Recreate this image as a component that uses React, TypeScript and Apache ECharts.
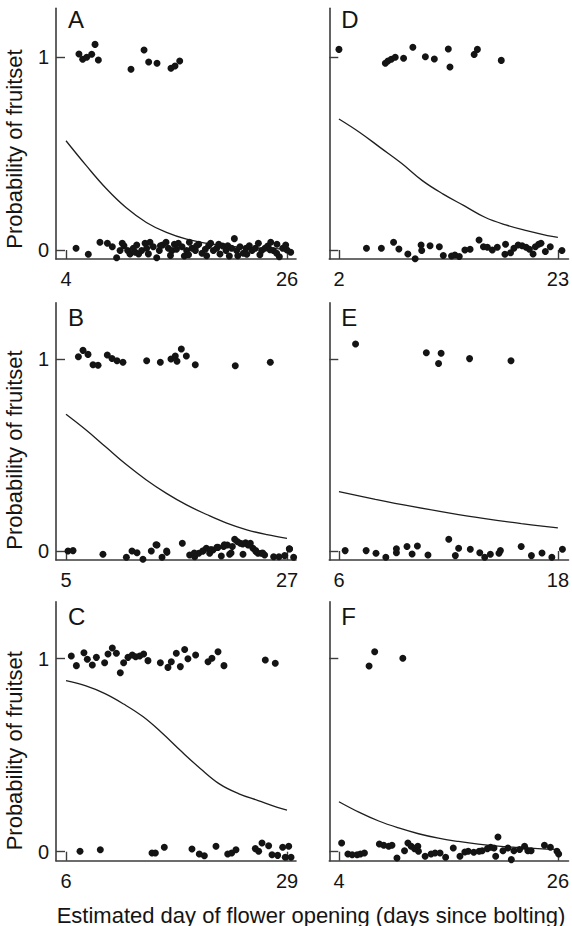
import React, { useEffect, useRef } from "react";
import * as echarts from "echarts";

const FONT = '"Liberation Sans", Arial, Helvetica, sans-serif';

const panelLetters = ["A", "B", "C", "D", "E", "F"];
const xTickValues = [[4, 26], [5, 27], [6, 29], [2, 23], [6, 18], [4, 26]];
const yTickValues = [0, 1];
const yTitle = "Probability of fruitset";
const xTitle = "Estimated day of flower opening (days since bolting)";

// Panel A
const fruitA = [[5.29,1.017],[5.66,0.990],[6.06,1.000],[6.56,1.016],[6.89,1.067],[7.22,0.986],[10.47,0.938],[11.77,1.038],[12.23,0.976],[13.06,0.969],[14.45,0.943],[14.85,0.955],[15.32,0.981]];
const noFruitA = [[5.00,0.009],[6.22,-0.022],[7.38,0.040],[8.12,0.035],[8.61,0.017],[9.04,-0.040],[9.38,-0.003],[9.77,0.022],[10.14,-0.003],[10.37,-0.021],[10.70,0.009],[11.04,0.026],[11.23,-0.021],[11.53,-0.003],[11.87,0.035],[12.03,0.009],[12.36,0.040],[12.69,0.017],[13.03,-0.040],[13.29,-0.003],[13.62,0.026],[13.96,0.040],[14.19,0.009],[14.55,-0.003],[14.79,0.030],[15.18,0.035],[15.55,0.017],[15.78,-0.031],[16.01,-0.003],[16.28,0.040],[16.54,0.009],[16.88,-0.003],[17.21,0.030],[17.54,-0.017],[17.87,0.004],[18.20,0.022],[18.40,0.035],[18.67,-0.003],[19.00,0.009],[19.33,-0.021],[19.60,0.021],[19.93,-0.003],[20.26,-0.031],[20.49,0.009],[20.76,0.059],[20.99,-0.003],[21.32,0.017],[21.65,-0.017],[21.92,0.009],[22.25,0.022],[22.52,-0.003],[22.85,0.009],[23.15,0.035],[23.48,-0.003],[23.81,0.009],[24.08,0.021],[24.38,0.040],[24.64,-0.003],[24.97,-0.017],[25.24,-0.035],[25.57,0.009],[25.87,0.026],[26.37,-0.012],[9.6,0.035],[10.9,-0.012],[12.2,-0.02],[13.4,0.022],[14.4,-0.028],[15.0,0.004],[16.2,-0.025],[17.0,0.022],[18.0,-0.03],[19.2,0.03],[20.1,0.022],[21.1,-0.03],[22.0,-0.022],[23.3,-0.025],[24.3,0.002],[25.0,0.03],[26.0,0.0]];
const curveA = [[4,0.567],[6,0.439],[8,0.319],[10,0.219],[12,0.143],[14,0.091],[16,0.056],[18,0.035],[20,0.021],[22,0.013],[24,0.008],[26,0.005]];

// Panel B
const fruitB = [[6.23,1.012],[6.69,1.045],[7.19,1.024],[7.69,0.970],[8.19,0.967],[9.11,1.021],[9.58,1.003],[10.08,0.991],[10.67,0.983],[13.03,0.991],[14.39,0.983],[15.45,1.000],[15.88,1.016],[16.05,0.988],[16.48,1.052],[16.98,1.016],[17.87,0.970],[21.85,0.965],[25.34,0.983]];
const noFruitB = [[5.20,0.000],[5.70,0.002],[8.68,-0.017],[11.01,-0.033],[11.57,0.000],[12.07,-0.009],[12.66,-0.043],[13.49,0.000],[14.06,0.031],[14.56,-0.033],[15.05,-0.007],[16.58,0.040],[17.31,-0.021],[17.81,-0.030],[18.21,-0.012],[18.64,0.000],[18.97,0.014],[19.30,-0.012],[19.63,0.005],[20.13,0.019],[20.46,-0.026],[20.69,0.023],[21.06,0.031],[21.29,-0.017],[21.56,0.023],[21.79,0.061],[22.05,0.049],[22.35,0.040],[22.62,-0.017],[22.88,0.043],[23.12,0.031],[23.35,0.040],[23.61,0.014],[23.88,0.002],[24.11,-0.012],[24.44,-0.012],[24.77,-0.021],[25.67,-0.030],[26.20,-0.030],[26.77,-0.024],[27.26,0.010],[27.66,-0.033],[19.43,0.007],[20.03,0.019],[20.76,0.033],[21.43,-0.010],[22.59,0.036],[23.25,0.033],[23.91,-0.002],[24.58,-0.010],[18.61,0.0],[17.77,-0.010],[13.96,0.033],[15.02,0.0],[27.23,0.012]];
const curveB = [[5,0.712],[7,0.63],[9,0.54],[11,0.45],[13,0.37],[15,0.30],[17,0.24],[19,0.19],[21,0.145],[23,0.11],[25,0.085],[27,0.066]];

// Panel C
const fruitC = [[6.55,1.014],[7.08,0.964],[7.87,1.031],[8.22,0.997],[8.74,0.967],[9.16,1.007],[10.02,0.979],[10.37,1.024],[10.82,1.055],[11.24,1.028],[11.65,0.927],[12.00,0.979],[12.45,1.007],[12.90,1.019],[13.25,1.010],[13.67,1.014],[14.08,1.024],[14.53,0.990],[15.82,0.979],[16.61,0.955],[16.96,0.984],[17.48,1.028],[17.90,0.959],[18.35,1.048],[18.69,1.000],[19.49,1.019],[20.78,0.984],[21.19,1.002],[21.82,1.036],[22.44,0.964],[26.74,0.993],[27.78,0.976]];
const noFruitC = [[7.46,0.002],[9.57,0.010],[14.95,-0.007],[15.30,-0.007],[16.23,0.023],[19.11,0.014],[19.87,-0.012],[20.40,-0.021],[21.61,0.028],[22.83,-0.012],[23.24,-0.007],[23.69,0.010],[25.70,0.016],[26.05,0.002],[26.40,0.045],[27.09,0.031],[27.44,-0.016],[28.03,-0.019],[28.55,0.023],[29.18,0.028],[28.82,-0.029],[29.42,-0.029]];
const curveC = [[6,0.886],[8,0.86],[10,0.82],[12,0.765],[14,0.70],[16,0.615],[18,0.52],[20,0.43],[22,0.35],[24,0.30],[26,0.265],[28,0.23],[29,0.216]];

// Panel D
const fruitD = [[2.00,1.041],[6.45,0.969],[6.70,0.981],[7.02,0.990],[7.40,1.000],[8.20,0.995],[9.09,1.052],[10.29,1.003],[11.15,0.991],[12.49,1.043],[12.65,0.950],[14.97,1.015],[15.28,1.041],[17.57,0.984]];
const noFruitD = [[4.64,0.009],[6.07,0.009],[7.24,0.040],[7.75,0.005],[8.61,-0.021],[9.31,-0.045],[9.88,0.026],[9.94,-0.003],[10.74,0.022],[11.63,0.017],[12.01,-0.029],[12.80,-0.031],[13.12,-0.026],[13.54,-0.034],[14.08,0.000],[14.58,0.004],[15.44,0.052],[15.86,0.017],[16.24,0.014],[16.71,0.000],[17.19,0.014],[17.98,0.030],[17.92,-0.022],[18.46,-0.014],[18.78,0.009],[19.19,0.026],[19.57,0.022],[19.95,0.014],[20.27,0.004],[20.62,-0.021],[20.84,0.017],[21.16,0.030],[21.38,0.035],[21.80,-0.008],[22.27,0.017],[23.39,-0.003]];
const curveD = [[2,0.68],[4,0.61],[6,0.53],[8,0.45],[10,0.36],[12,0.29],[14,0.23],[16,0.17],[18,0.13],[20,0.10],[22,0.075],[23,0.066]];

// Panel E
const fruitE = [[6.91,1.078],[10.79,1.033],[11.46,0.977],[11.60,1.030],[13.16,1.002],[15.43,0.991]];
const noFruitE = [[6.34,0.002],[7.49,0.002],[8.03,-0.012],[8.57,-0.033],[9.15,-0.009],[9.15,0.012],[9.73,0.023],[10.01,-0.016],[10.30,0.026],[10.88,-0.021],[12.02,0.061],[12.38,-0.024],[12.56,0.014],[13.20,0.009],[13.72,-0.009],[13.99,-0.033],[14.30,-0.017],[14.77,-0.012],[14.85,0.002],[15.99,0.023],[16.55,-0.024],[17.13,-0.010],[17.67,-0.033],[18.25,0.009]];
const curveE = [[6,0.309],[8,0.269],[10,0.232],[12,0.199],[14,0.169],[16,0.143],[18,0.12]];

// Panel F
const fruitF = [[7.03,0.962],[7.59,1.036],[10.42,1.002]];
const noFruitF = [[4.27,0.045],[4.90,-0.012],[5.33,-0.016],[5.83,-0.016],[6.16,-0.012],[6.56,-0.007],[8.06,0.040],[8.50,0.033],[9.00,0.028],[9.33,0.033],[9.83,-0.033],[10.59,0.005],[10.93,0.045],[11.26,0.028],[11.59,0.016],[11.93,0.028],[11.99,0.002],[12.66,-0.024],[13.26,-0.012],[13.66,-0.007],[14.16,-0.007],[14.72,-0.029],[15.49,0.019],[16.16,-0.024],[16.65,-0.002],[16.99,0.002],[17.55,-0.003],[18.09,0.002],[18.39,0.005],[18.92,0.016],[19.25,0.023],[19.58,0.019],[19.98,0.076],[19.75,-0.024],[20.48,0.005],[20.98,0.019],[21.32,-0.041],[21.58,0.005],[22.15,0.011],[22.65,0.028],[22.98,0.005],[23.31,0.005],[24.65,0.033],[25.25,0.023],[25.91,0.002],[26.08,-0.012]];
const curveF = [[4,0.259],[6,0.205],[8,0.159],[10,0.123],[12,0.093],[14,0.070],[16,0.053],[18,0.039],[20,0.029],[22,0.022],[24,0.016],[26,0.012]];

const panels = [
  { col: 0, row: 0, fruit: fruitA, noFruit: noFruitA, curve: curveA },
  { col: 0, row: 1, fruit: fruitB, noFruit: noFruitB, curve: curveB },
  { col: 0, row: 2, fruit: fruitC, noFruit: noFruitC, curve: curveC },
  { col: 1, row: 0, fruit: fruitD, noFruit: noFruitD, curve: curveD },
  { col: 1, row: 1, fruit: fruitE, noFruit: noFruitE, curve: curveE },
  { col: 1, row: 2, fruit: fruitF, noFruit: noFruitF, curve: curveF },
];

// layout (pixels)
const colLeft = [56, 329.3];
const colTick0 = [66, 339];
const colTick1 = [287, 559.3];
const colRight = [296, 570];
const rowTop = [8.3, 302.7, 601.7];
const rowY1 = [57.3, 359, 658.7];
const rowY0 = [250, 551, 851.7];
const BOTTOM_PAD = 9;

const AXIS_COLOR = "#3c3c3c";
const INK = "#141414";

export default function App() {
  const ref = useRef<HTMLDivElement>(null);
  useEffect(() => {
    document.body.style.margin = "0";
    if (!ref.current) return;
    const chart = echarts.init(ref.current, undefined, { renderer: "svg" });
    const grid: any[] = [];
    const xAxis: any[] = [];
    const yAxis: any[] = [];
    const series: any[] = [];
    const graphic: any[] = [];
    panels.forEach((p, i) => {
      const [lo, hi] = xTickValues[i];
      const left = colLeft[p.col];
      const right = colRight[p.col];
      const t0 = colTick0[p.col];
      const t1 = colTick1[p.col];
      const top = rowTop[p.row];
      const y0 = rowY0[p.row];
      const unit = y0 - rowY1[p.row];
      const bottom = y0 + BOTTOM_PAD;
      const scale = (hi - lo) / (t1 - t0);
      grid.push({ left, top, width: right - left, height: bottom - top, containLabel: false });
      xAxis.push({
        type: "value",
        gridIndex: i,
        min: lo - (t0 - left) * scale,
        max: hi + (right - t1) * scale,
        axisLine: { show: true, onZero: false, lineStyle: { color: AXIS_COLOR, width: 1.6 } },
        axisTick: { show: true, inside: true, length: 9, customValues: [lo, hi], lineStyle: { color: AXIS_COLOR, width: 1.4 } },
        axisLabel: { show: true, customValues: [lo, hi], margin: 10, fontSize: 20, color: INK, fontFamily: FONT },
        splitLine: { show: false },
      });
      yAxis.push({
        type: "value",
        gridIndex: i,
        min: -BOTTOM_PAD / unit,
        max: (y0 - top) / unit,
        axisLine: { show: true, onZero: false, lineStyle: { color: AXIS_COLOR, width: 1.6 } },
        axisTick: { show: true, inside: true, length: 9, customValues: yTickValues, lineStyle: { color: AXIS_COLOR, width: 1.4 } },
        axisLabel: { show: p.col === 0, customValues: yTickValues, margin: 7, fontSize: 20, color: INK, fontFamily: FONT },
        splitLine: { show: false },
      });
      series.push({
        type: "line",
        xAxisIndex: i,
        yAxisIndex: i,
        data: p.curve,
        smooth: 0.4,
        symbol: "none",
        lineStyle: { color: "#1e1e1e", width: 1.3 },
        z: 2,
      });
      series.push({
        type: "scatter",
        xAxisIndex: i,
        yAxisIndex: i,
        data: [...p.fruit, ...p.noFruit],
        symbolSize: 7,
        clip: false,
        itemStyle: { color: INK, opacity: 1 },
        z: 3,
      });
      graphic.push({
        type: "text",
        x: left + 12,
        y: top + (p.row === 0 ? -1 : 3),
        style: {
          text: panelLetters[i],
          fontSize: 24,
          fontFamily: FONT,
          fill: INK,
          align: "left",
          textAlign: "left",
          verticalAlign: "top",
          textVerticalAlign: "top",
        },
      });
      if (p.col === 0) {
        graphic.push({
          type: "text",
          x: 14,
          y: y0 - 101,
          rotation: Math.PI / 2,
          style: {
            text: yTitle,
            fontSize: 22,
            fontFamily: FONT,
            fill: INK,
            align: "center",
            textAlign: "center",
            verticalAlign: "middle",
            textVerticalAlign: "middle",
          },
        });
      }
    });
    graphic.push({
      type: "text",
      x: 311,
      y: 915,
      style: {
        text: xTitle,
        fontSize: 22,
        fontFamily: FONT,
        fill: INK,
        align: "center",
        textAlign: "center",
        verticalAlign: "middle",
        textVerticalAlign: "middle",
      },
    });
    chart.setOption({
      animation: false,
      backgroundColor: "#ffffff",
      textStyle: { fontFamily: FONT },
      grid,
      xAxis,
      yAxis,
      series,
      graphic,
    });
    return () => chart.dispose();
  }, []);
  return <div ref={ref} style={{ width: 572, height: 926, position: "absolute", left: 0, top: 0 }} />;
}
